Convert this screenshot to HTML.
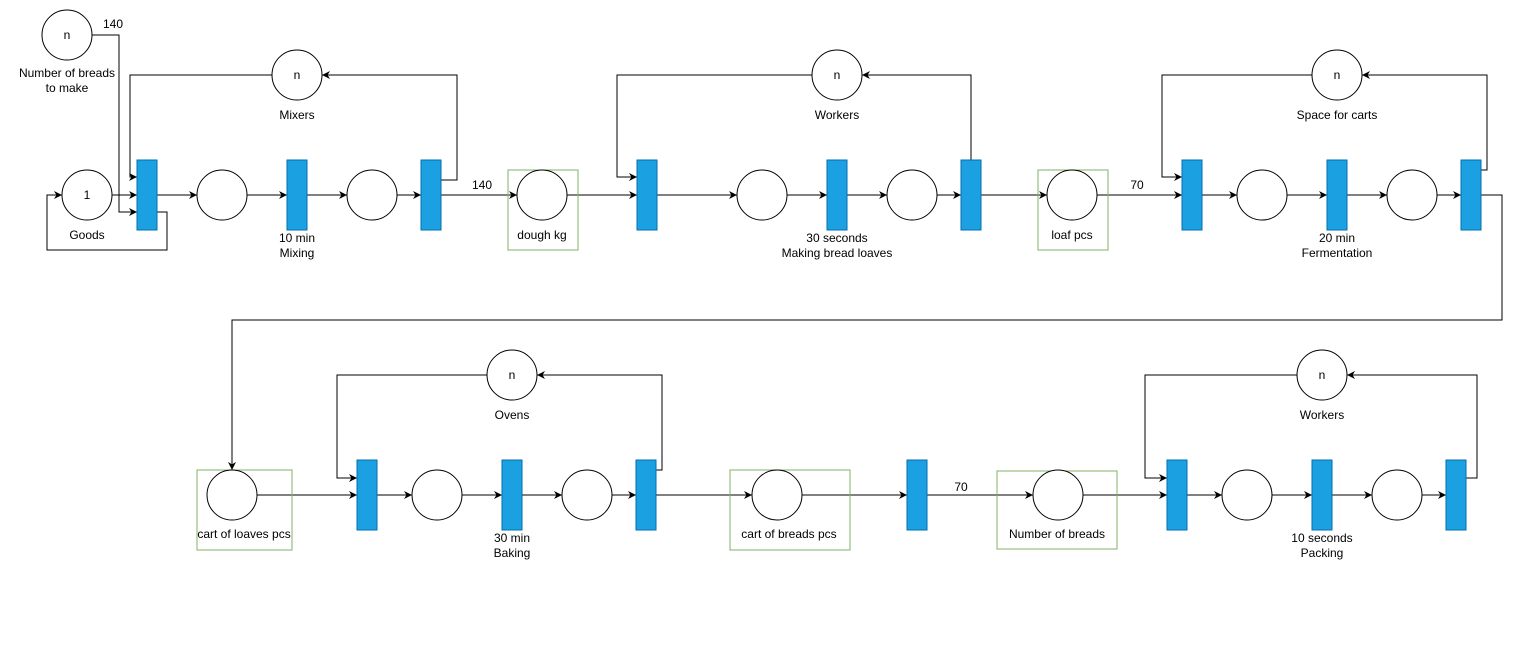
<!DOCTYPE html>
<html><head><meta charset="utf-8"><style>
html,body{margin:0;padding:0;background:#fff;}
svg text{font-family:"Liberation Sans",sans-serif;font-size:12px;fill:#000;}
</style></head><body>
<svg width="1527" height="644" viewBox="0 0 1527 644" xmlns="http://www.w3.org/2000/svg">
<defs><marker id="a" viewBox="0 0 10 10" refX="10" refY="5" markerWidth="8" markerHeight="8" orient="auto" markerUnits="userSpaceOnUse"><path d="M0,0 L10,5 L0,10 L3,5 z" fill="#000"/></marker></defs>
<g fill="none" stroke="#000" stroke-width="1">
<!-- row1 arrows -->
<path d="M112,195H137" marker-end="url(#a)"/>
<path d="M157,195H197" marker-end="url(#a)"/>
<path d="M247,195H287" marker-end="url(#a)"/>
<path d="M307,195H347" marker-end="url(#a)"/>
<path d="M397,195H421" marker-end="url(#a)"/>
<path d="M441,195H517" marker-end="url(#a)"/>
<path d="M567,195H637" marker-end="url(#a)"/>
<path d="M657,195H737" marker-end="url(#a)"/>
<path d="M787,195H827" marker-end="url(#a)"/>
<path d="M847,195H887" marker-end="url(#a)"/>
<path d="M937,195H961" marker-end="url(#a)"/>
<path d="M981,195H1047" marker-end="url(#a)"/>
<path d="M1097,195H1182" marker-end="url(#a)"/>
<path d="M1202,195H1237" marker-end="url(#a)"/>
<path d="M1287,195H1327" marker-end="url(#a)"/>
<path d="M1347,195H1387" marker-end="url(#a)"/>
<path d="M1437,195H1461" marker-end="url(#a)"/>
<!-- goods loop & number -->
<path d="M157,212H167V250H47V195H62" marker-end="url(#a)"/>
<path d="M92,35H119V212H137" marker-end="url(#a)"/>
<!-- resource loops row1 -->
<path d="M272,75H130V177H137" marker-end="url(#a)"/>
<path d="M441,180H457V75H322" marker-end="url(#a)"/>
<path d="M812,75H617V177H637" marker-end="url(#a)"/>
<path d="M971,160V75H862" marker-end="url(#a)"/>
<path d="M1312,75H1162V177H1182" marker-end="url(#a)"/>
<path d="M1481,170H1487V75H1362" marker-end="url(#a)"/>
<!-- connector down -->
<path d="M1481,195H1502V320H232V470" marker-end="url(#a)"/>
<!-- row2 arrows -->
<path d="M257,495H357" marker-end="url(#a)"/>
<path d="M377,495H412" marker-end="url(#a)"/>
<path d="M462,495H502" marker-end="url(#a)"/>
<path d="M522,495H562" marker-end="url(#a)"/>
<path d="M612,495H636" marker-end="url(#a)"/>
<path d="M656,495H752" marker-end="url(#a)"/>
<path d="M802,495H907" marker-end="url(#a)"/>
<path d="M927,495H1033" marker-end="url(#a)"/>
<path d="M1083,495H1167" marker-end="url(#a)"/>
<path d="M1187,495H1222" marker-end="url(#a)"/>
<path d="M1272,495H1312" marker-end="url(#a)"/>
<path d="M1332,495H1372" marker-end="url(#a)"/>
<path d="M1422,495H1446" marker-end="url(#a)"/>
<path d="M487,375H337V478H357" marker-end="url(#a)"/>
<path d="M656,470H662V375H537" marker-end="url(#a)"/>
<path d="M1297,375H1145V478H1167" marker-end="url(#a)"/>
<path d="M1466,478H1477V375H1347" marker-end="url(#a)"/>
</g>
<!-- green boxes -->
<g fill="none" stroke="#82b366" stroke-width="1">
<rect x="508" y="170" width="70" height="80"/>
<rect x="1038" y="170" width="70" height="80"/>
<rect x="197" y="470" width="95" height="80"/>
<rect x="730" y="470" width="120" height="80"/>
<rect x="997" y="471" width="120" height="78"/>
</g>
<!-- circles -->
<g fill="#fff" stroke="#000" stroke-width="1">
<circle cx="67" cy="35" r="25"/><circle cx="297" cy="75" r="25"/><circle cx="837" cy="75" r="25"/><circle cx="1337" cy="75" r="25"/>
<circle cx="87" cy="195" r="25"/><circle cx="222" cy="195" r="25"/><circle cx="372" cy="195" r="25"/><circle cx="542" cy="195" r="25"/>
<circle cx="762" cy="195" r="25"/><circle cx="912" cy="195" r="25"/><circle cx="1072" cy="195" r="25"/><circle cx="1262" cy="195" r="25"/><circle cx="1412" cy="195" r="25"/>
<circle cx="512" cy="375" r="25"/><circle cx="1322" cy="375" r="25"/>
<circle cx="232" cy="495" r="25"/><circle cx="437" cy="495" r="25"/><circle cx="587" cy="495" r="25"/><circle cx="777" cy="495" r="25"/>
<circle cx="1058" cy="495" r="25"/><circle cx="1247" cy="495" r="25"/><circle cx="1397" cy="495" r="25"/>
</g>
<!-- transitions -->
<g fill="#1ba1e2" stroke="#006eaf" stroke-width="1">
<rect x="137" y="160" width="20" height="70"/><rect x="287" y="160" width="20" height="70"/><rect x="421" y="160" width="20" height="70"/>
<rect x="637" y="160" width="20" height="70"/><rect x="827" y="160" width="20" height="70"/><rect x="961" y="160" width="20" height="70"/>
<rect x="1182" y="160" width="20" height="70"/><rect x="1327" y="160" width="20" height="70"/><rect x="1461" y="160" width="20" height="70"/>
<rect x="357" y="460" width="20" height="70"/><rect x="502" y="460" width="20" height="70"/><rect x="636" y="460" width="20" height="70"/>
<rect x="907" y="460" width="20" height="70"/>
<rect x="1167" y="460" width="20" height="70"/><rect x="1312" y="460" width="20" height="70"/><rect x="1446" y="460" width="20" height="70"/>
</g>
<g text-anchor="middle">
<text x="67" y="39">n</text><text x="297" y="79">n</text><text x="837" y="79">n</text><text x="1337" y="79">n</text>
<text x="512" y="379">n</text><text x="1322" y="379">n</text><text x="87" y="199">1</text>
<text x="67" y="77">Number of breads</text><text x="67" y="92">to make</text>
<text x="297" y="119">Mixers</text><text x="837" y="119">Workers</text><text x="1337" y="119">Space for carts</text>
<text x="87" y="239">Goods</text>
<text x="297" y="242">10 min</text><text x="297" y="257">Mixing</text>
<text x="542" y="239">dough kg</text>
<text x="837" y="242">30 seconds</text><text x="837" y="257">Making bread loaves</text>
<text x="1072" y="239">loaf pcs</text>
<text x="1337" y="242">20 min</text><text x="1337" y="257">Fermentation</text>
<text x="512" y="419">Ovens</text><text x="1322" y="419">Workers</text>
<text x="244" y="538">cart of loaves pcs</text>
<text x="512" y="542">30 min</text><text x="512" y="557">Baking</text>
<text x="789" y="538">cart of breads pcs</text>
<text x="1057" y="538">Number of breads</text>
<text x="1322" y="542">10 seconds</text><text x="1322" y="557">Packing</text>
<text x="113" y="28">140</text><text x="482" y="189">140</text><text x="1137" y="189">70</text><text x="961" y="491">70</text>
</g>
</svg>
</body></html>
